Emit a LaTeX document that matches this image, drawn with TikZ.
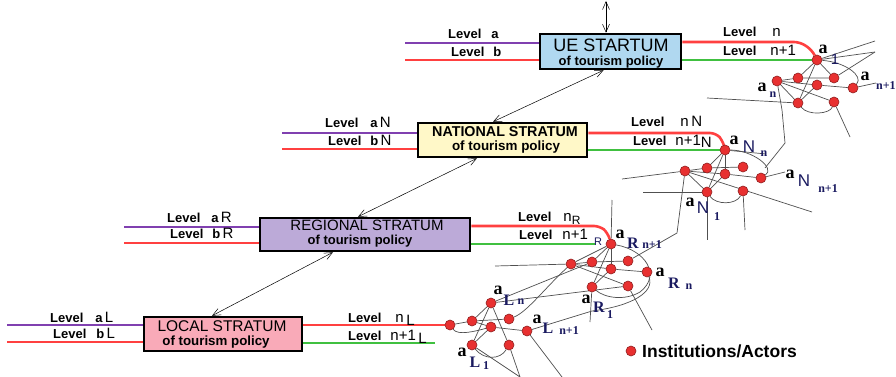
\documentclass[tikz,border=0pt]{standalone}
\usepackage{fontspec}
\setmainfont{Liberation Sans}
\newfontfamily\serifbf{Liberation Serif}
\usetikzlibrary{arrows.meta}
\definecolor{lpurple}{HTML}{8040B0}
\definecolor{lred}{HTML}{FF4040}
\definecolor{lgreen}{HTML}{40C040}
\definecolor{uefill}{HTML}{B0D8F0}
\definecolor{natfill}{HTML}{FFF8C8}
\definecolor{regfill}{HTML}{BCAAD8}
\definecolor{locfill}{HTML}{F9AAB8}
\definecolor{nodered}{HTML}{E83030}
\definecolor{nodedark}{HTML}{902020}
\definecolor{netgray}{HTML}{505050}
\definecolor{navy}{HTML}{1A1A60}
\pgfdeclarelayer{back}
\pgfdeclarelayer{edges}
\pgfsetlayers{back,edges,main}
\newcommand\fsz[1]{\fontsize{#1}{#1}\selectfont}
\tikzset{
  actor/.style={circle, fill=nodered, draw=nodedark, line width=0.6pt, minimum size=10pt, inner sep=0pt},
  net/.style={draw=netgray, line width=0.7pt},
  stratum/.style={draw=black, line width=2.5pt, inner sep=0pt},
  lvl/.style={font=\bfseries\fsz{13}, inner sep=0pt, anchor=base west},
  lvlline/.style={line width=2.6pt},
  alab/.style={font=\serifbf\bfseries\fsz{18}, inner sep=0pt},
  asub/.style={font=\serifbf\bfseries\fsz{12}, inner sep=0pt, text=navy},
  asans/.style={font=\fsz{14}, inner sep=0pt, text=navy},
  rlab/.style={font=\serifbf\bfseries\fsz{16}, inner sep=0pt, text=navy},
  link/.style={line width=0.5pt, {Straight Barb[length=8pt,width=7pt]}-{Straight Barb[length=8pt,width=7pt]}}
}
\begin{document}
\begin{tikzpicture}[x=1pt,y=-1pt]
\begin{pgfonlayer}{back}\fill[white] (0,0) rectangle (896,377);\end{pgfonlayer}
\useasboundingbox (0,0) rectangle (896,377);

% ---------- strata boxes ----------
\node[stratum, fill=uefill, minimum width=141pt, minimum height=35pt] (ue) at (610.5,51.5) {};
\node[font=\fsz{18}, inner sep=0pt] (uet) at (611,45) {UE STARTUM};
\node[font=\bfseries\fsz{13}, inner sep=0pt] (ues) at (611,62) {of tourism policy};

\node[stratum, fill=natfill, minimum width=169pt, minimum height=34pt] (nat) at (502.5,140) {};
\node[font=\bfseries\fsz{14.3}, inner sep=0pt] (natt) at (505,131.5) {NATIONAL STRATUM};
\node[font=\bfseries\fsz{13.4}, inner sep=0pt] (nats) at (506,147.5) {of tourism policy};

\node[stratum, fill=regfill, minimum width=210pt, minimum height=33pt] (reg) at (365,234.5) {};
\node[font=\fsz{15}, inner sep=0pt] (regt) at (367,225.5) {REGIONAL STRATUM};
\node[font=\bfseries\fsz{13}, inner sep=0pt] (regs) at (360,241.5) {of tourism policy};

\node[stratum, fill=locfill, minimum width=158pt, minimum height=34pt] (loc) at (223,334) {};
\node[font=\fsz{15.5}, inner sep=0pt] (loct) at (222,326.5) {LOCAL STRATUM};
\node[font=\bfseries\fsz{13.3}, inner sep=0pt] (locs) at (216,342.5) {of tourism policy};

% ---------- level labels ----------
\node[lvl] (lua) at (448,39) {Level\hspace{10pt}a};
\node[lvl] (lub) at (451,57) {Level\hspace{9pt}b};
\node[lvl] (lun) at (723,37) {Level\hspace{16pt}{\mdseries\fsz{15}n}};
\node[lvl] (lun1) at (723,56) {Level\hspace{14pt}{\mdseries\fsz{15}n+1}};

\node[lvl] (lna) at (325,128) {Level\hspace{12pt}a\,{\mdseries\fsz{15}N}};
\node[lvl] (lnb) at (328,146) {Level\hspace{9pt}b\,{\mdseries\fsz{15}N}};
\node[lvl] (lnn) at (631,127) {Level\hspace{16pt}{\mdseries\fsz{15}n\,N}};
\node[lvl] (lnn1) at (633,145) {Level\hspace{9pt}{\mdseries\fsz{15}n+1\raisebox{-2pt}{N}}};

\node[lvl] (lra) at (167,222) {Level\hspace{11pt}a\,{\mdseries\fsz{15}R}};
\node[lvl] (lrb) at (170,238) {Level\hspace{9pt}b\,{\mdseries\fsz{15}R}};
\node[lvl] (lrn) at (518,221) {Level\hspace{12pt}{\mdseries\fsz{15}n\raisebox{-3pt}{\fsz{12}R}}};
\node[lvl] (lrn1) at (519,239) {Level\hspace{10pt}{\mdseries\fsz{15}n+1}};
\node[asans, font=\fsz{11}] (lrsub) at (598,242) {R};

\node[lvl] (lla) at (50,322) {Level\hspace{12pt}a\,{\mdseries\fsz{15}L}};
\node[lvl] (llb) at (53,338) {Level\hspace{10pt}b\,{\mdseries\fsz{15}L}};
\node[lvl] (lln) at (348,322) {Level\hspace{14pt}{\mdseries\fsz{15}n\,\raisebox{-3pt}{L}}};
\node[lvl] (lln1) at (348,340) {Level\hspace{9pt}{\mdseries\fsz{15}n+1\,\raisebox{-3pt}{L}}};

% ---------- actors: UE network ----------
\node[actor] (A1) at (817,60) {};
\node[actor] (B1) at (777,81) {};
\node[actor] (C1) at (798,78) {};
\node[actor] (D1) at (834,78) {};
\node[actor] (E1) at (817,85) {};
\node[actor] (F1) at (853,88) {};
\node[actor] (G1) at (798,103) {};
\node[actor] (H1) at (834,102) {};
% national network
\node[actor] (A2) at (725,150) {};
\node[actor] (B2) at (685,171) {};
\node[actor] (C2) at (707,168) {};
\node[actor] (D2) at (743,167) {};
\node[actor] (E2) at (725,174) {};
\node[actor] (F2) at (761,178) {};
\node[actor] (G2) at (707,192) {};
\node[actor] (H2) at (743,191) {};
% regional network
\node[actor] (A3) at (611,244) {};
\node[actor] (B3) at (571,264) {};
\node[actor] (C3) at (592,262) {};
\node[actor] (D3) at (628,261) {};
\node[actor] (E3) at (611,269) {};
\node[actor] (F3) at (647,272) {};
\node[actor] (G3) at (592,287) {};
\node[actor] (H3) at (628,286) {};
% local network
\node[actor] (N0) at (450,325) {};
\node[actor] (A4) at (491,303) {};
\node[actor] (B4) at (472,321) {};
\node[actor] (C4) at (509,319) {};
\node[actor] (D4) at (491,327) {};
\node[actor] (E4) at (527,331) {};
\node[actor] (F4) at (472,345) {};
\node[actor] (G4) at (509,345) {};

% ---------- actor labels ----------
\node[alab] (t1a) at (823,49) {a};
\node[asans, font=\fsz{15}] (t1b) at (835,59) {1};
\node[alab] (t1c) at (762,87) {a};
\node[asub] (t1d) at (773,95) {n};
\node[alab] (t1e) at (865,76) {a};
\node[asub, anchor=west] (t1f) at (876,86) {n+1};

\node[alab] (t2a) at (734,140) {a};
\node[asans, font=\fsz{17}] (t2b) at (749,147) {N};
\node[asub] (t2c) at (764,154) {n};
\node[alab] (t2d) at (790,174) {a};
\node[asans, font=\fsz{17}] (t2e) at (804,181) {N};
\node[asub] (t2f) at (828,189) {n+1};
\node[alab] (t2g) at (690,202) {a};
\node[asans, font=\fsz{17}] (t2h) at (703,208) {N};
\node[asub] (t2i) at (717,217) {1};

\node[alab] (t3a) at (620,234) {a};
\node[rlab] (t3b) at (633,243) {R};
\node[asub] (t3c) at (652,245) {n+1};
\node[alab] (t3d) at (660,272) {a};
\node[rlab] (t3e) at (674,283) {R};
\node[asub] (t3f) at (689,287) {n};
\node[alab] (t3g) at (586,299) {a};
\node[rlab] (t3h) at (599,307) {R};
\node[asub] (t3i) at (610,315) {1};

\node[alab] (t4a) at (498,290) {a};
\node[rlab] (t4b) at (509,300) {L};
\node[asub] (t4c) at (521,302) {n};
\node[alab] (t4d) at (537,319) {a};
\node[rlab] (t4e) at (548,328) {L};
\node[asub] (t4f) at (569,331) {n+1};
\node[alab] (t4g) at (462,352) {a};
\node[rlab] (t4h) at (475,362) {L};
\node[asub] (t4i) at (486,366) {1};

% ---------- legend ----------
\node[actor] (leg) at (631,351) {};
\node[font=\bfseries\fsz{17.5}, inner sep=0pt, anchor=west] (legt) at (642,351) {Institutions/Actors};

% ---------- free coordinates ----------
\coordinate (pu1) at (405,43);  \coordinate (ru1) at (405,60);
\coordinate (pn1) at (282,133); \coordinate (rn0) at (282,149);
\coordinate (pr1) at (124,227); \coordinate (rr0) at (124,243);
\coordinate (pl1) at (7,325);   \coordinate (rl0) at (7,342);
\coordinate (ur1) at (800,42);  \coordinate (ur2) at (812,50);
\coordinate (nr1) at (716,133); \coordinate (nr2) at (723,141);
\coordinate (gr1) at (600,226); \coordinate (gr2) at (608,233);
\coordinate (gg3) at (595,244);
\coordinate (gl4) at (435,343);
\coordinate (uetop) at (606,1);

\coordinate (c1a) at (875,41); \coordinate (c1b) at (875,52);
\coordinate (c1c) at (707,98); \coordinate (c1d) at (782,110);
\coordinate (c1e) at (785,143); \coordinate (c1f) at (765,168);
\coordinate (c1g) at (850,137); \coordinate (c1h) at (876,83);

\coordinate (c2a) at (622,179); \coordinate (c2b) at (643,192);
\coordinate (c2c) at (812,212); \coordinate (c2d) at (677,233);
\coordinate (c2e) at (707,240); \coordinate (c2f) at (745,230);
\coordinate (c2g) at (785,172); \coordinate (c2h) at (766,154);

\coordinate (c3v) at (612,200); \coordinate (c3a) at (495,266);
\coordinate (c3b) at (590,322); \coordinate (c3e) at (592,311);
\coordinate (c3f) at (652,330); \coordinate (c3m) at (640,292);

\coordinate (c4a) at (520,377); \coordinate (c4b) at (562,377);

% ---------- lines ----------
\begin{pgfonlayer}{edges}
% level lines
\draw[lvlline, lpurple] (pu1) -- (pu1 -| ue.west);
\draw[lvlline, lred] (ru1) -- (ru1 -| ue.west);
\draw[lvlline, lred, rounded corners=6pt] (ur1 -| ue.east) -- (ur1) -- (ur2) -- (A1);
\draw[lvlline, lgreen] (A1.west -| ue.east) -- (A1.west);

\draw[lvlline, lpurple] (pn1) -- (pn1 -| nat.west);
\draw[lvlline, lred] (rn0) -- (rn0 -| nat.west);
\draw[lvlline, lred, rounded corners=6pt] (nr1 -| nat.east) -- (nr1) -- (nr2) -- (A2);
\draw[lvlline, lgreen] (A2.west -| nat.east) -- (A2.west);

\draw[lvlline, lpurple] (pr1) -- (pr1 -| reg.west);
\draw[lvlline, lred] (rr0) -- (rr0 -| reg.west);
\draw[lvlline, lred, rounded corners=6pt] (gr1 -| reg.east) -- (gr1) -- (gr2) -- (A3);
\draw[lvlline, lgreen] (gg3 -| reg.east) -- (gg3);

\draw[lvlline, lpurple] (pl1) -- (pl1 -| loc.west);
\draw[lvlline, lred] (rl0) -- (rl0 -| loc.west);
\draw[lvlline, lred] (N0.west -| loc.east) -- (N0.west);
\draw[lvlline, lgreen] (gl4 -| loc.east) -- (gl4);

% UE network
\draw[net] (A1) -- (c1a);
\draw[net] (A1) -- (c1b);
\draw[net] (D1) -- (c1b);
\draw[net] (A1) -- (C1);
\draw[net] (A1) -- (G1);
\draw[net] (A1) -- (D1);
\draw[net] (B1) -- (C1) -- (D1);
\draw[net] (B1) -- (E1) -- (F1);
\draw[net] (B1) -- (G1);
\draw[net] (B1) -- (H1);
\draw[net] (E1) -- (G1);
\draw[net] (c1c) -- (G1);
\draw[net] (B1) -- (c1d) -- (c1e) -- (c1f);
\draw[net] (H1) -- (c1g);
\draw[net] (F1) -- (c1h);
\draw[net] (A1) .. controls (845,62) and (864,76) .. (F1);
\draw[net] (G1) .. controls (808,116) and (830,114) .. (H1);

% national network
\draw[net] (A2) -- (C2);
\draw[net] (A2) -- (G2);
\draw[net] (A2) -- (E2);
\draw[net] (A2) -- (c2h);
\draw[net] (B2) -- (C2) -- (D2);
\draw[net] (B2) -- (E2) -- (F2);
\draw[net] (B2) -- (G2);
\draw[net] (B2) -- (c2c);
\draw[net] (E2) -- (G2);
\draw[net] (c2a) -- (B2);
\draw[net] (c2b) -- (G2);
\draw[net] (B2) -- (c2d) -- (D3);
\draw[net] (G2) -- (c2e);
\draw[net] (H2) -- (c2f);
\draw[net] (F2) -- (c2g);
\draw[net] (A2) .. controls (752,150) and (776,168) .. (F2);
\draw[net] (G2) .. controls (716,205) and (736,205) .. (H2);

% regional network
\draw[net] (c3v) -- (A3);
\draw[net] (A3) -- (B3);
\draw[net] (A3) -- (C3);
\draw[net] (A3) -- (G3);
\draw[net] (A3) -- (E3);
\draw[net] (B3) -- (C3) -- (D3);
\draw[net] (B3) -- (E3) -- (F3);
\draw[net] (B3) -- (H3);
\draw[net] (E3) -- (G3);
\draw[net] (c3a) -- (B3);
\draw[net] (G3) -- (c3b);
\draw[net] (H3) -- (c3f);
\draw[net] (A3) .. controls (645,250) and (662,275) .. (c3m) .. controls (625,301) and (605,298) .. (G3);
\draw[net] (F3) .. controls (655,292) and (632,306) .. (c3e) -- (E4);

% local network
\draw[net] (N0) -- (B4);
\draw[net] (N0) .. controls (458,336) and (476,331) .. (D4);
\draw[net] (A4) -- (B4);
\draw[net] (A4) -- (F4);
\draw[net] (A4) -- (G4);
\draw[net] (A4) -- (C3);
\draw[net] (A4) -- (H3);
\draw[net] (B4) -- (C4);
\draw[net] (B4) -- (D4) -- (E4);
\draw[net] (D4) -- (F4);
\draw[net] (C4) .. controls (527,312) and (545,288) .. (B3);
\draw[net] (F4) -- (c4a);
\draw[net] (G4) -- (c4a);
\draw[net] (E4) -- (c4b);
\draw[net] (F4) .. controls (484,360) and (500,360) .. (G4);

% links between strata
\draw[link] (uetop) -- (uetop |- ue.north);
\draw[link] ([xshift=-7pt]ue.south) -- ([xshift=-9.5pt]nat.north);
\draw[link] ([xshift=-25.5pt]nat.south) -- ([xshift=-7pt]reg.north);
\draw[link] ([xshift=-32pt]reg.south) -- ([xshift=-11pt]loc.north);
\end{pgfonlayer}
\end{tikzpicture}
\end{document}
